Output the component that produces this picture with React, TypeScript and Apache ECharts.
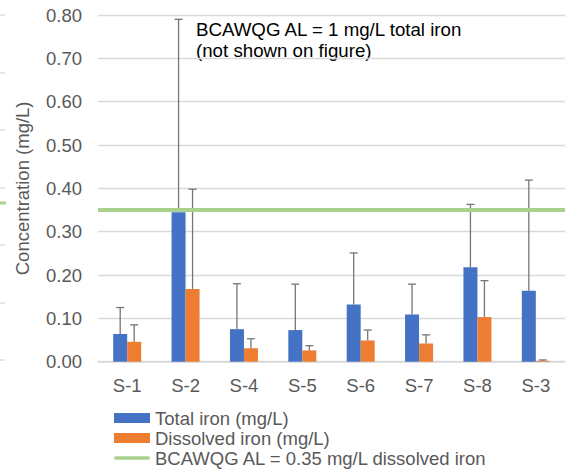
import React, { useEffect, useRef } from "react";
import * as echarts from "echarts";

const categories = ["S-1", "S-2", "S-4", "S-5", "S-6", "S-7", "S-8", "S-3"];
const totalIron = [0.064, 0.345, 0.075, 0.073, 0.132, 0.109, 0.218, 0.164];
const totalIronUpper = [0.125, 0.79, 0.18, 0.179, 0.251, 0.179, 0.363, 0.419];
const dissolvedIron = [0.046, 0.168, 0.031, 0.026, 0.049, 0.042, 0.103, 0.002];
const dissolvedIronUpper = [0.085, 0.398, 0.053, 0.037, 0.073, 0.062, 0.187, 0.004];
const dissolvedAL = 0.35;
const yTicks = { min: 0, max: 0.8, interval: 0.1 };

const seriesNames = [
  "Total iron (mg/L)",
  "Dissolved iron (mg/L)",
  "BCAWQG AL = 0.35 mg/L dissolved iron",
];
const annotation = "BCAWQG AL = 1 mg/L total iron\n(not shown on figure)";

const FONT = "'Liberation Sans', Arial, sans-serif";
const BLUE = "#4472C4";
const ORANGE = "#ED7D31";
const GREEN = "#A9D18E";
const BAR_W = 14;

export default function App() {
  const ref = useRef<HTMLDivElement>(null);
  useEffect(() => {
    if (!ref.current) return;
    const chart = echarts.init(ref.current, null, { renderer: "svg" });
    const errData: any[] = [];
    categories.forEach((_, i) => {
      errData.push([i, totalIron[i], totalIronUpper[i], -1]);
      errData.push([i, dissolvedIron[i], dissolvedIronUpper[i], 1]);
    });
    const leftMarks = [15, 73, 130, 188, 245, 303, 360].map((y) => ({
      type: "line",
      shape: { x1: 0, y1: y, x2: 5, y2: y },
      style: { stroke: "#D9D9D9", lineWidth: 1.3 },
      silent: true,
    }));
    chart.setOption({
      animation: false,
      textStyle: { fontFamily: FONT },
      grid: { left: 98, right: -13, top: 15, bottom: 107.3, containLabel: false },
      xAxis: {
        type: "category",
        data: categories,
        axisTick: { show: false },
        axisLine: { lineStyle: { color: "#D9D9D9", width: 1.5 } },
        axisLabel: { color: "#595959", fontSize: 18.5, fontFamily: FONT, margin: 14 },
      },
      yAxis: {
        type: "value",
        min: yTicks.min,
        max: yTicks.max,
        interval: yTicks.interval,
        name: "Concentration (mg/L)",
        nameLocation: "middle",
        nameGap: 66,
        nameTextStyle: { color: "#595959", fontSize: 18.5, fontFamily: FONT },
        axisLabel: {
          color: "#595959",
          fontSize: 18.5,
          fontFamily: FONT,
          margin: 16,
          formatter: (v: number) => v.toFixed(2),
        },
        splitLine: { lineStyle: { color: "#D9D9D9", width: 1.3 } },
        axisLine: { show: false },
        axisTick: { show: false },
      },
      legend: {
        orient: "vertical",
        left: 114,
        top: 408,
        itemWidth: 36,
        itemHeight: 10,
        itemGap: 0,
        padding: 0,
        textStyle: { color: "#595959", fontSize: 18.5, fontFamily: FONT, lineHeight: 20 },
        data: [
          { name: seriesNames[0], icon: "rect" },
          { name: seriesNames[1], icon: "rect" },
          {
            name: seriesNames[2],
            icon: "path://M2,0 L38,0 A2,2 0 0 1 38,4 L2,4 A2,2 0 0 1 2,0 Z",
          },
        ],
      },
      graphic: [
        ...leftMarks,
        {
          type: "line",
          shape: { x1: 0, y1: 203, x2: 6, y2: 203 },
          style: { stroke: GREEN, lineWidth: 3 },
          silent: true,
        },
        {
          type: "text",
          left: 196,
          top: 18.5,
          style: {
            text: annotation,
            fill: "#000000",
            font: `18.7px ${FONT}`,
            lineHeight: 21.5,
          },
          silent: true,
        },
      ],
      series: [
        {
          name: seriesNames[0],
          type: "bar",
          data: totalIron,
          barWidth: BAR_W,
          barGap: "0%",
          itemStyle: { color: BLUE },
        },
        {
          name: seriesNames[1],
          type: "bar",
          data: dissolvedIron,
          barWidth: BAR_W,
          barGap: "0%",
          itemStyle: { color: ORANGE },
        },
        {
          type: "custom",
          name: "errors",
          data: errData,
          encode: { x: 0, y: [1, 2] },
          z: 3,
          renderItem: (params: any, api: any) => {
            const base = api.coord([api.value(0), api.value(1)]);
            const top = api.coord([api.value(0), api.value(2)]);
            const cx = base[0] + api.value(3) * (BAR_W / 2);
            const st = { stroke: "#767676", lineWidth: 1.3 };
            return {
              type: "group",
              children: [
                { type: "line", shape: { x1: cx, y1: base[1], x2: cx, y2: top[1] }, style: st },
                { type: "line", shape: { x1: cx - 4, y1: top[1], x2: cx + 4, y2: top[1] }, style: st },
              ],
            };
          },
        },
        {
          name: seriesNames[2],
          type: "line",
          data: categories.map(() => "-"),
          symbol: "none",
          itemStyle: { color: GREEN },
          lineStyle: { color: GREEN, width: 4 },
          z: 4,
          markLine: {
            silent: true,
            symbol: ["none", "none"],
            label: { show: false },
            lineStyle: { color: GREEN, width: 4, type: "solid" },
            data: [{ yAxis: dissolvedAL }],
          },
        },
      ],
    });
    return () => chart.dispose();
  }, []);
  return (
    <div
      ref={ref}
      style={{ position: "absolute", left: 0, top: 0, width: 565, height: 469 }}
    />
  );
}
